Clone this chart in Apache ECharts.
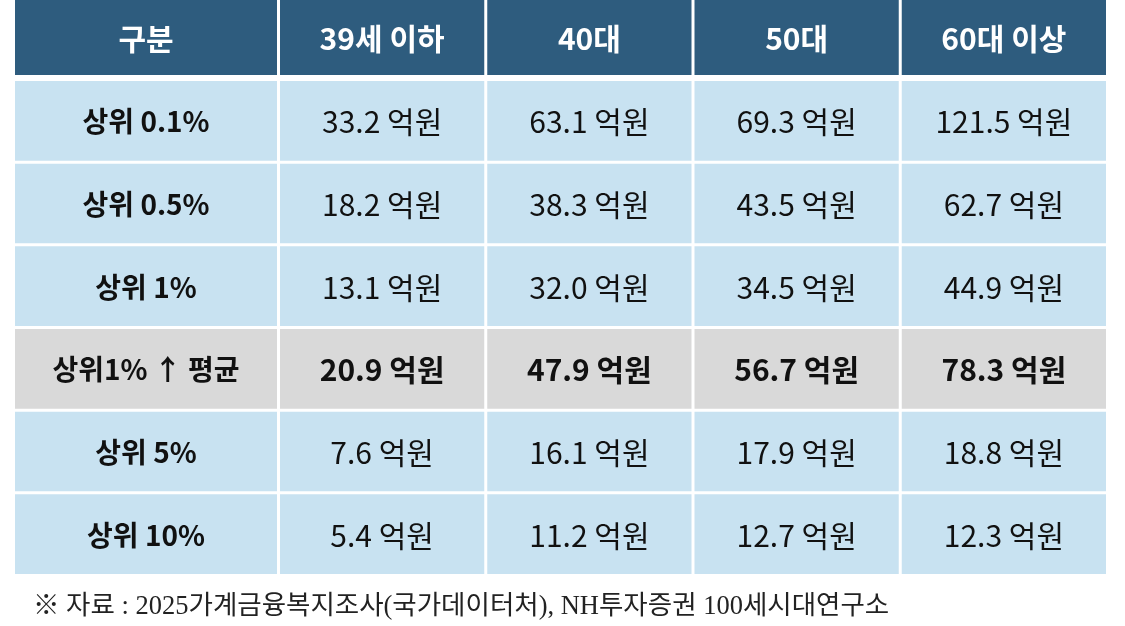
<!DOCTYPE html>
<html>
<head>
<meta charset="utf-8">
<script src="https://cdn.jsdelivr.net/npm/echarts@6/dist/echarts.min.js"></script>
<style>
html,body{margin:0;padding:0;background:#fff;}
#main{width:1125px;height:626px;}
</style>
</head>
<body>
<div id="main"></div>
<script>
// ---- data ----
const headerTitle = '구분';
const ageGroups = ['39세 이하', '40대', '50대', '60대 이상'];
const tiers = ['상위 0.1%', '상위 0.5%', '상위 1%', '상위1% ↑ 평균', '상위 5%', '상위 10%'];
const age39 = [33.2, 18.2, 13.1, 20.9, 7.6, 5.4];
const age40s = [63.1, 38.3, 32.0, 47.9, 16.1, 11.2];
const age50s = [69.3, 43.5, 34.5, 56.7, 17.9, 12.7];
const age60plus = [121.5, 62.7, 44.9, 78.3, 18.8, 12.3];
const unit = '억원';
const highlightRow = '상위1% ↑ 평균';
const sourceNote = '※ 자료 : 2025가계금융복지조사(국가데이터처), NH투자증권 100세시대연구소';

// ---- styles ----
const HEADER_BG = '#2E5C7E';
const BODY_BG = '#C8E2F1';
const HILITE_BG = '#D9D9D9';
const FONT = "'Noto Sans CJK KR', 'Noto Sans', sans-serif";
const GAP = 3;

const columns = [age39, age40s, age50s, age60plus];

const chart = echarts.init(document.getElementById('main'), null, {renderer: 'canvas'});

function cell(getText, getBg, getFont, getColor, gapX, gapY) {
  return function (params, api) {
    const xi = api.value(0), yi = api.value(1);
    const c = api.coord([xi, yi]);
    const s = api.size([1, 1]);
    const x = c[0] - s[0] / 2, y = c[1] - s[1] / 2;
    const w = s[0] - gapX, h = s[1] - gapY;
    return {
      type: 'group',
      children: [
        {type: 'rect', shape: {x: x, y: y, width: w, height: h}, style: {fill: getBg(xi, yi)}},
        {type: 'text', style: {
          text: getText(xi, yi), x: x + w / 2, y: y + h / 2 + 1,
          align: 'center', verticalAlign: 'middle',
          fill: getColor(xi, yi), font: getFont(xi, yi)
        }}
      ]
    };
  };
}

const hiIdx = tiers.indexOf(highlightRow);
const bodyBg = (xi, yi) => (yi === hiIdx ? HILITE_BG : BODY_BG);

const grids = [
  {left: 15, top: 0, width: 262 + GAP, height: 75},
  {left: 280, top: 0, width: 826 + GAP, height: 75},
  {left: 15, top: 81, width: 262 + GAP, height: 496},
  {left: 280, top: 81, width: 826 + GAP, height: 496}
];
const hiddenCat = (data, inverse) => ({type: 'category', data: data, inverse: !!inverse, show: false, boundaryGap: true});

const option = {
  backgroundColor: '#ffffff',
  animation: false,
  grid: grids,
  xAxis: [
    Object.assign(hiddenCat([headerTitle]), {gridIndex: 0}),
    Object.assign(hiddenCat(ageGroups), {gridIndex: 1}),
    Object.assign(hiddenCat([headerTitle]), {gridIndex: 2}),
    Object.assign(hiddenCat(ageGroups), {gridIndex: 3})
  ],
  yAxis: [
    Object.assign(hiddenCat(['h']), {gridIndex: 0}),
    Object.assign(hiddenCat(['h']), {gridIndex: 1}),
    Object.assign(hiddenCat(tiers, true), {gridIndex: 2}),
    Object.assign(hiddenCat(tiers, true), {gridIndex: 3})
  ],
  series: [
    {
      type: 'custom', xAxisIndex: 0, yAxisIndex: 0,
      data: [[0, 0]],
      renderItem: cell(() => headerTitle, () => HEADER_BG, () => 'bold 30px ' + FONT, () => '#ffffff', GAP, 0)
    },
    {
      type: 'custom', xAxisIndex: 1, yAxisIndex: 1,
      data: ageGroups.map((g, i) => [i, 0]),
      renderItem: cell((xi) => ageGroups[xi], () => HEADER_BG, () => 'bold 30px ' + FONT, () => '#ffffff', GAP, 0)
    },
    {
      type: 'custom', xAxisIndex: 2, yAxisIndex: 2,
      data: tiers.map((t, i) => [0, i]),
      renderItem: cell((xi, yi) => tiers[yi], bodyBg, () => 'bold 28px ' + FONT, () => '#111111', GAP, GAP)
    },
    {
      type: 'custom', xAxisIndex: 3, yAxisIndex: 3,
      data: (function () {
        const d = [];
        tiers.forEach((t, yi) => columns.forEach((col, xi) => d.push([xi, yi, col[yi]])));
        return d;
      })(),
      renderItem: cell(
        (xi, yi) => columns[xi][yi].toFixed(1) + ' ' + unit,
        bodyBg,
        (xi, yi) => (yi === hiIdx ? 'bold ' : '') + '30px ' + FONT,
        () => '#111111', GAP, GAP)
    }
  ],
  graphic: [{
    type: 'text', left: 33, top: 594,
    style: {text: sourceNote, font: "26.5px 'Liberation Serif', 'Noto Sans CJK KR', serif", fill: '#222222'}
  }]
};
chart.setOption(option);
</script>
</body>
</html>
